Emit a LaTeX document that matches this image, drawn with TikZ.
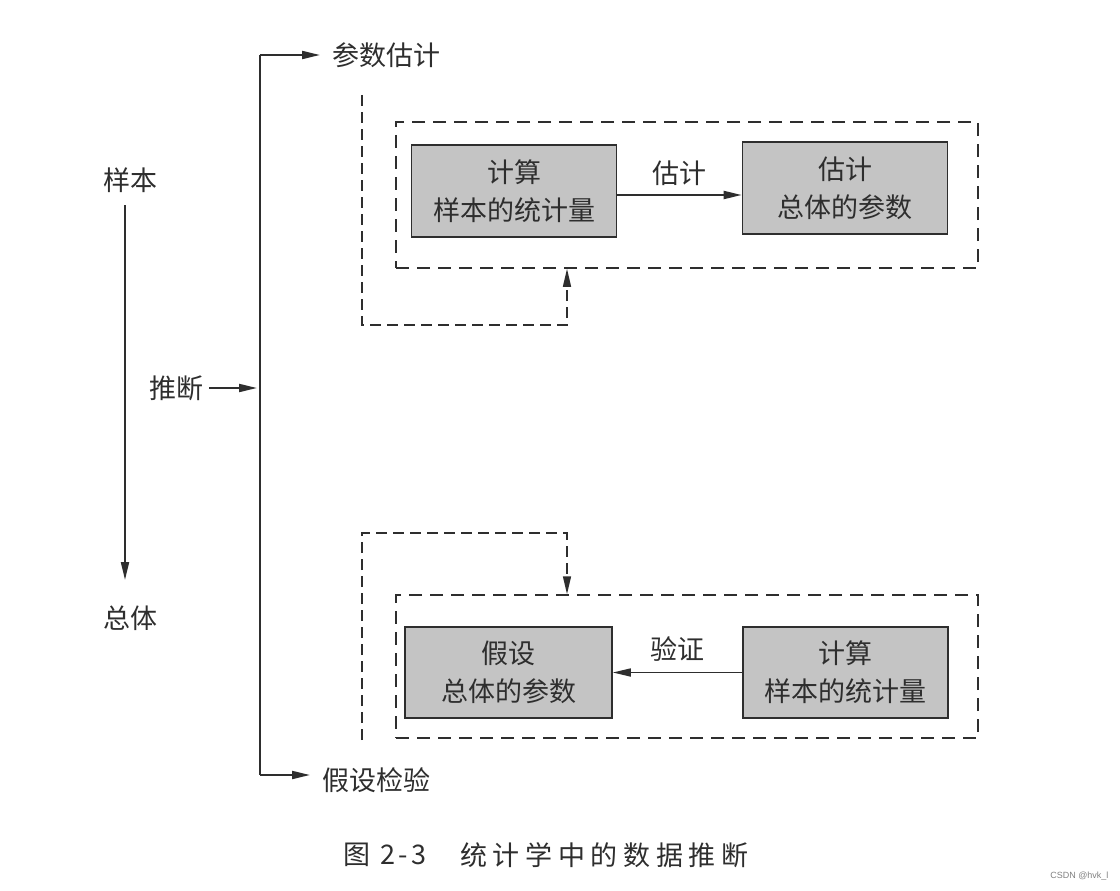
\documentclass[tikz,border=0pt]{standalone}
\usepackage{fontspec}
\setmainfont{Noto Sans CJK SC}
\newfontfamily\wmfont{Liberation Sans}
\usetikzlibrary{arrows.meta}
\definecolor{ink}{HTML}{2E2E2E}
\definecolor{boxfill}{HTML}{C4C4C4}
\tikzset{
  lbl/.style={font=\fontsize{27}{30}\selectfont, text=ink, inner sep=4pt},
  graybox/.style={draw=ink, line width=1.6pt, fill=boxfill, minimum width=205pt, minimum height=92pt,
    align=center, font=\fontsize{27}{38}\selectfont, text=ink, inner sep=0pt},
  dashbox/.style={draw=ink, line width=1.5pt, dash pattern=on 13pt off 8pt, minimum width=582pt, inner sep=0pt},
  solidline/.style={draw=ink, line width=2pt},
  arr/.style={-{Triangle[length=18pt,width=8pt]}},
  dline/.style={draw=ink, line width=1.5pt, dash pattern=on 11pt off 6pt},
}
\begin{document}
\begin{tikzpicture}[x=1pt,y=-1pt]
\useasboundingbox (0,0) rectangle (1120,891);
% left column
\node[lbl] (sample) at (130,180) {样本};
\node[lbl] (pop) at (130,618) {总体};
\draw[solidline,arr] (125,205) coordinate (sa) -- (125,580) coordinate (sb);
\node[lbl] (infer) at (176,388) {推断};
% bracket
\coordinate (btop) at (260,55);
\coordinate (bbot) at (260,775);
\draw[solidline, line width=1.5pt] (btop) -- (bbot);
\node[lbl, anchor=west, inner sep=0pt] (pe) at (332,55) {参数估计};
\node[lbl, anchor=west, inner sep=0pt] (ht) at (322,780) {假设检验};
\draw[solidline,arr] (btop) -- ([xshift=-12pt]pe.west);
\draw[solidline,arr] (bbot) -- ([xshift=-12pt]ht.west |- bbot);
\draw[solidline,arr] ([xshift=2pt]infer.east) -- ([xshift=-3pt]infer.east -| btop);
% top group
\node[dashbox, minimum height=146pt] (outer1) at (687,195) {};
\node[graybox] (a) at (514,191) {计算\\样本的统计量};
\node[graybox] (b) at (845,188) {估计\\总体的参数};
\draw[solidline,arr] (a.east |- 0,195) -- (b.west |- 0,195) node[midway, lbl, above, yshift=4pt] (elab) {估计};
\coordinate (fb1) at (362,95);
\coordinate (fbturn) at (567,325);
\draw[dline,arr] (fb1) -- (fb1 |- fbturn) -- (fbturn) -- (fbturn |- outer1.south);
% bottom group
\node[dashbox, minimum height=143pt] (outer2) at (687,666.5) {};
\node[graybox, minimum width=207pt, minimum height=91pt] (c) at (508.5,672.5) {假设\\总体的参数};
\node[graybox, minimum height=91pt] (d) at (845.5,672.5) {计算\\样本的统计量};
\draw[solidline,line width=1.7pt,arr] (d.west) -- (c.east) node[midway, lbl, above, yshift=6pt] (vlab) {验证};
\coordinate (fb2) at (362,740);
\coordinate (fbturn2) at (567,533);
\draw[dline,arr] (fb2) -- (fb2 |- fbturn2) -- (fbturn2) -- (fbturn2 |- outer2.north);
% caption
\node[lbl, anchor=west, inner sep=0pt] (cap1) at (343,855) {\addfontfeatures{LetterSpace=14}图 2-3};
\node[lbl, anchor=west, inner sep=0pt] (cap2) at (460,855) {\addfontfeatures{LetterSpace=21}统计学中的数据推断};
\node[font=\wmfont\fontsize{9}{10}\selectfont, text=gray, anchor=east] (wm) at (1112,876) {CSDN @hvk\_l};
\end{tikzpicture}
\end{document}
